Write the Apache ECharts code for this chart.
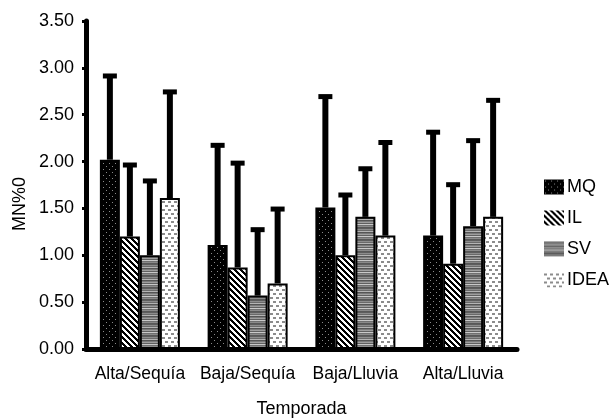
<!DOCTYPE html>
<html>
<head>
<meta charset="utf-8">
<script src="https://cdn.jsdelivr.net/npm/echarts@6/dist/echarts.min.js"></script>
<style>
  html, body { margin: 0; padding: 0; background: #fff; }
  #chart { width: 614px; height: 419px; }
</style>
</head>
<body>
<div id="chart"></div>
<script>
// Seasons on the category axis
const categories = ['Alta/Sequía', 'Baja/Sequía', 'Baja/Lluvia', 'Alta/Lluvia'];
const seriesNames = ['MQ', 'IL', 'SV', 'IDEA'];

// Mean MN%0 per season
const mqMean   = [2.02, 1.11, 1.51, 1.21];
const ilMean   = [1.20, 0.87, 1.00, 0.91];
const svMean   = [1.00, 0.57, 1.41, 1.31];
const ideaMean = [1.61, 0.70, 1.21, 1.41];

// Upper error (standard deviation) per season
const mqSd   = [0.92, 1.09, 1.21, 1.13];
const ilSd   = [0.79, 1.14, 0.67, 0.87];
const svSd   = [0.82, 0.73, 0.54, 0.94];
const ideaSd = [1.16, 0.82, 1.02, 1.27];

// Y axis ticks
const yMin = 0, yMax = 3.5, yStep = 0.5;

const means = [mqMean, ilMean, svMean, ideaMean];
const sds = [mqSd, ilSd, svSd, ideaSd];

const FONT = "'Liberation Sans', Arial, sans-serif";
const BAR_W = 20;

// Small tiles used as fill patterns for the bars
function tile(w, h, draw) {
  const c = document.createElement('canvas');
  c.width = w; c.height = h;
  const ctx = c.getContext('2d');
  draw(ctx);
  return { image: c, repeat: 'repeat' };
}

const dotFill = tile(6, 6, ctx => {
  ctx.fillStyle = '#000'; ctx.fillRect(0, 0, 6, 6);
  ctx.fillStyle = '#8a8a8a';
  ctx.fillRect(1, 1, 1, 1);
  ctx.fillRect(4, 4, 1, 1);
});

const diagFill = tile(6, 6, ctx => {
  ctx.fillStyle = '#fff'; ctx.fillRect(0, 0, 6, 6);
  ctx.fillStyle = '#000';
  for (let y = 0; y < 6; y++) {
    for (let x = 0; x < 6; x++) {
      if (((x - y) % 6 + 6) % 6 < 3) ctx.fillRect(x, y, 1, 1);
    }
  }
});

const stripeFill = tile(1, 12, ctx => {
  const rows = ['#5e5e5e', '#8c8c8c', '#6a6a6a', '#b4b4b4', '#555555', '#7a7a7a',
                '#9e9e9e', '#606060', '#c8c8c8', '#707070', '#8a8a8a', '#585858'];
  rows.forEach((col, i) => { ctx.fillStyle = col; ctx.fillRect(0, i, 1, 1); });
});

const dashFill = tile(6, 8, ctx => {
  ctx.fillStyle = '#fff'; ctx.fillRect(0, 0, 6, 8);
  ctx.fillStyle = '#8c8c8c';
  ctx.fillRect(0, 1, 3, 2);
  ctx.fillRect(3, 5, 3, 2);
});

const fills = [dotFill, diagFill, stripeFill, dashFill];

const barSeries = seriesNames.map((name, i) => ({
  name,
  type: 'bar',
  barWidth: BAR_W,
  barGap: '0%',
  data: means[i],
  itemStyle: { color: fills[i], borderColor: '#000', borderWidth: 2 },
  emphasis: { disabled: true },
  z: 2
}));

// Error bars: [category index, series index, mean, mean + sd]
const errData = [];
means.forEach((arr, g) => arr.forEach((m, c) => errData.push([c, g, m, +(m + sds[g][c]).toFixed(2)])));

const errSeries = {
  type: 'custom',
  data: errData,
  encode: { x: 0, y: 3 },
  z: 5,
  silent: true,
  renderItem(params, api) {
    const c = api.value(0), g = api.value(1), m = api.value(2), top = api.value(3);
    const base = api.coord([c, m]);
    const tp = api.coord([c, top]);
    const x = base[0] + (g - 1.5) * BAR_W;
    return {
      type: 'group',
      children: [
        { type: 'line', shape: { x1: x, y1: base[1], x2: x, y2: tp[1] + 2 },
          style: { stroke: '#000', lineWidth: 6 } },
        { type: 'rect', shape: { x: x - 7, y: tp[1], width: 14, height: 5 },
          style: { fill: '#000' } }
      ]
    };
  }
};

const chart = echarts.init(document.getElementById('chart'), null, { renderer: 'canvas' });
chart.setOption({
  animation: false,
  backgroundColor: '#fff',
  textStyle: { fontFamily: FONT, color: '#000' },
  grid: { left: 86, right: 97, top: 21, bottom: 70, outerBoundsMode: 'none' },
  legend: {
    data: seriesNames,
    orient: 'vertical',
    left: 539,
    top: 173,
    icon: 'rect',
    itemWidth: 20,
    itemHeight: 15,
    itemGap: 13,
    itemStyle: { borderWidth: 0 },
    selectedMode: false,
    textStyle: { fontFamily: FONT, fontSize: 18, color: '#000', padding: [0, 0, 0, -2] }
  },
  xAxis: {
    type: 'category',
    data: categories,
    name: 'Temporada',
    nameLocation: 'middle',
    nameGap: 51,
    nameTextStyle: { fontFamily: FONT, fontSize: 18, color: '#000' },
    axisLine: { lineStyle: { color: '#000', width: 5 } },
    axisTick: { length: 5, lineStyle: { color: '#000', width: 4 } },
    axisLabel: { fontFamily: FONT, fontSize: 17.5, color: '#000', margin: 16, interval: 0 },
    splitLine: { show: false }
  },
  yAxis: {
    type: 'value',
    min: yMin,
    max: yMax,
    interval: yStep,
    axisLine: { show: true, lineStyle: { color: '#000', width: 5 } },
    axisTick: { show: true, length: 4, lineStyle: { color: '#000', width: 3 } },
    axisLabel: { fontFamily: FONT, fontSize: 18, color: '#000', margin: 12,
                 formatter: v => v.toFixed(2) },
    splitLine: { show: false }
  },
  graphic: [{
    type: 'text',
    x: 20, y: 204,
    rotation: Math.PI / 2,
    style: { text: 'MN%0', font: '18px ' + FONT, fill: '#000',
             align: 'center', verticalAlign: 'middle' }
  }],
  series: [...barSeries, errSeries]
});
</script>
</body>
</html>
